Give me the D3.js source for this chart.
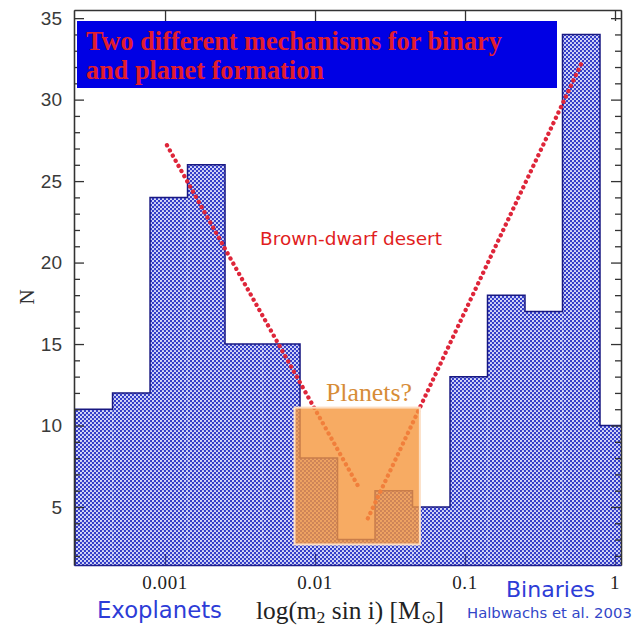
<!DOCTYPE html>
<html><head><meta charset="utf-8">
<script src="https://cdn.jsdelivr.net/npm/d3@7"></script>
<style>body{margin:0;background:#fff}svg{display:block}</style>
</head><body>
<script>
// ---- data ----
const binLogLo = [-3.6,-3.35,-3.1,-2.85,-2.6,-2.35,-2.1,-1.85,-1.6,-1.35,-1.1,-0.85,-0.6,-0.35,-0.1];
const binWidthDex = 0.25;
const counts = [11,12,24,26,15,15,8,3,6,5,13,18,17,34,10];
const xTickValues = [0.001,0.01,0.1,1];
const xTickLabels = ["0.001","0.01","0.1","1"];
const yMajorTicks = [5,10,15,20,25,30,35];
const yMinorTicks = d3.range(2,36);
const desertLeft = [[0.00103,27.2],[0.0196,6.2]];
const desertRight = [[0.0225,4.3],[0.61,32.4]];
const planetBoxX = [0.0073,0.050];
const planetBoxN = [2.7,11.1];

// ---- layout ----
const W=635,H=630;
const L=74,R=621,T=10,B=565;
const svg=d3.select("body").append("svg").attr("width",W).attr("height",H);
const x=d3.scaleLog().domain([Math.pow(10,-3.607),Math.pow(10,0.04)]).range([L,R]);
const y=d3.scaleLinear().domain([1.44,35.5]).range([B,T]);

const defs=svg.append("defs");
defs.append("clipPath").attr("id","plotclip").append("rect")
  .attr("x",L).attr("y",T).attr("width",R-L).attr("height",B-T);
const pat=defs.append("pattern").attr("id","hatch").attr("patternUnits","userSpaceOnUse")
  .attr("width",4).attr("height",4);
pat.append("rect").attr("width",4).attr("height",4).attr("fill","rgb(50,60,200)");
pat.append("circle").attr("cx",1).attr("cy",1).attr("r",1.1).attr("fill","rgb(225,228,252)");
pat.append("circle").attr("cx",3).attr("cy",3).attr("r",1.1).attr("fill","rgb(225,228,252)");

function fit(sel,w){
  const l=sel.node().getComputedTextLength();
  const fs=parseFloat(sel.attr("font-size"));
  sel.attr("font-size",fs*w/l);
  return sel;
}

const bins=binLogLo.map((lo,i)=>({lo:Math.pow(10,lo),hi:Math.pow(10,lo+binWidthDex),n:counts[i]}));
const plot=svg.append("g").attr("clip-path","url(#plotclip)");
plot.selectAll("rect.bar").data(bins).join("rect").attr("class","bar")
  .attr("x",d=>x(d.lo)).attr("width",d=>x(d.hi)-x(d.lo))
  .attr("y",d=>y(d.n)).attr("height",d=>B-y(d.n))
  .attr("fill","url(#hatch)");
const pts=[[bins[0].lo,y.domain()[0]]];
bins.forEach(d=>{pts.push([d.lo,d.n]);pts.push([d.hi,d.n]);});
plot.append("path").datum(pts)
  .attr("d",d3.line().x(d=>x(d[0])).y(d=>y(d[1])))
  .attr("fill","none").attr("stroke","rgb(25,25,130)").attr("stroke-width",1.5);

// ---- axes ----
const axCol="#333";
function styleAxis(g){g.selectAll("path,line").attr("stroke",axCol).attr("stroke-width",1.3);g.selectAll("text").remove();}
svg.append("g").attr("transform",`translate(${L},0)`)
  .call(d3.axisLeft(y).tickValues(yMajorTicks).tickSizeInner(-10).tickSizeOuter(0)).call(styleAxis);
svg.append("g").attr("transform",`translate(${L},0)`)
  .call(d3.axisLeft(y).tickValues(yMinorTicks.filter(v=>v%5)).tickSizeInner(-6).tickSizeOuter(0)).call(styleAxis);
svg.append("g").attr("transform",`translate(${R},0)`)
  .call(d3.axisRight(y).tickValues(yMajorTicks).tickSizeInner(-10).tickSizeOuter(0)).call(styleAxis);
svg.append("g").attr("transform",`translate(${R},0)`)
  .call(d3.axisRight(y).tickValues(yMinorTicks.filter(v=>v%5)).tickSizeInner(-6).tickSizeOuter(0)).call(styleAxis);
svg.append("g").attr("transform",`translate(0,${T})`)
  .call(d3.axisTop(x).tickValues(xTickValues).tickSizeInner(-11).tickSizeOuter(0)).call(styleAxis);
const bot=svg.append("g").attr("transform",`translate(0,${B})`)
  .call(d3.axisBottom(x).tickValues(xTickValues).tickSizeInner(-11).tickSizeOuter(0)).call(styleAxis);
bot.selectAll(".tick line").attr("stroke","rgb(20,20,90)").attr("opacity",0.6);
bot.select("path").attr("stroke","rgb(30,30,140)").attr("stroke-width",1.6);

svg.append("g").selectAll("text").data(yMajorTicks).join("text")
  .attr("x",62).attr("y",d=>y(d)).attr("dy","0.36em").attr("text-anchor","end")
  .attr("font-family","Liberation Sans, Arial, sans-serif").attr("font-size",19).attr("fill","#3a3a3a")
  .text(d=>d);
svg.append("g").selectAll("text").data(xTickValues).join("text")
  .attr("x",d=>x(d)).attr("y",589).attr("text-anchor","middle")
  .attr("font-family","Liberation Serif, serif").attr("font-size",19).attr("letter-spacing",0.6).attr("fill","#222")
  .text((d,i)=>xTickLabels[i]);

svg.append("text").attr("transform","translate(34,297) rotate(-90)").attr("text-anchor","middle")
  .attr("font-family","Liberation Serif, serif").attr("font-size",21).attr("fill","#333").text("N");

// ---- red dotted lines ----
const ln=d3.line().x(d=>x(d[0])).y(d=>y(d[1]));
[desertLeft,desertRight].forEach(seg=>{
  svg.append("path").attr("d",ln(seg)).attr("fill","none")
    .attr("stroke","rgb(222,38,58)").attr("stroke-width",4.3)
    .attr("stroke-linecap","round").attr("stroke-dasharray","0.1,5.8");
});

// ---- orange planet box ----
svg.append("rect").attr("x",x(planetBoxX[0])).attr("y",y(planetBoxN[1]))
  .attr("width",x(planetBoxX[1])-x(planetBoxX[0])).attr("height",y(planetBoxN[0])-y(planetBoxN[1]))
  .attr("fill","rgb(245,150,60)").attr("fill-opacity",0.8)
  .attr("stroke","rgb(252,222,195)").attr("stroke-width",2);
fit(svg.append("text").attr("x",326).attr("y",401).attr("font-family","Liberation Serif, serif")
  .attr("font-size",24).attr("fill","rgb(215,140,55)").text("Planets?"),86);

// ---- title box ----
svg.append("rect").attr("x",77).attr("y",21).attr("width",480).attr("height",67).attr("fill","rgb(0,0,228)");
const t1=fit(svg.append("text").attr("x",86).attr("y",50).attr("font-family","Liberation Serif, serif")
  .attr("font-weight","bold").attr("font-size",22).attr("fill","rgb(225,30,45)")
  .text("Two different mechanisms for binary"),416);
svg.append("text").attr("x",86).attr("y",79).attr("font-family","Liberation Serif, serif")
  .attr("font-weight","bold").attr("font-size",t1.attr("font-size")).attr("fill","rgb(225,30,45)")
  .text("and planet formation");

// ---- annotations ----
fit(svg.append("text").attr("x",260).attr("y",245).attr("font-family","DejaVu Sans, sans-serif")
  .attr("font-size",16).attr("fill","rgb(225,30,30)").text("Brown-dwarf desert"),182);
fit(svg.append("text").attr("x",97).attr("y",618).attr("font-family","DejaVu Sans, sans-serif")
  .attr("font-size",20).attr("fill","rgb(45,60,215)").text("Exoplanets"),125);
fit(svg.append("text").attr("x",506).attr("y",597).attr("font-family","DejaVu Sans, sans-serif")
  .attr("font-size",20).attr("fill","rgb(45,60,215)").text("Binaries"),89);
fit(svg.append("text").attr("x",467).attr("y",618).attr("font-family","DejaVu Sans, sans-serif")
  .attr("font-size",13).attr("fill","rgb(50,70,200)").text("Halbwachs et al. 2003"),165);
const xl=svg.append("text").attr("x",256).attr("y",619).attr("font-family","Liberation Serif, serif")
  .attr("font-size",17).attr("fill","#222");
xl.append("tspan").text("log(m");
xl.append("tspan").attr("font-size","0.7em").attr("dy",4).text("2");
xl.append("tspan").attr("dy",-4).text(" sin i)  [M");
xl.append("tspan").attr("font-size","0.7em").attr("dy",4).text("⊙");
xl.append("tspan").attr("dy",-4).text("]");
fit(xl,188);
</script>
</body></html>
